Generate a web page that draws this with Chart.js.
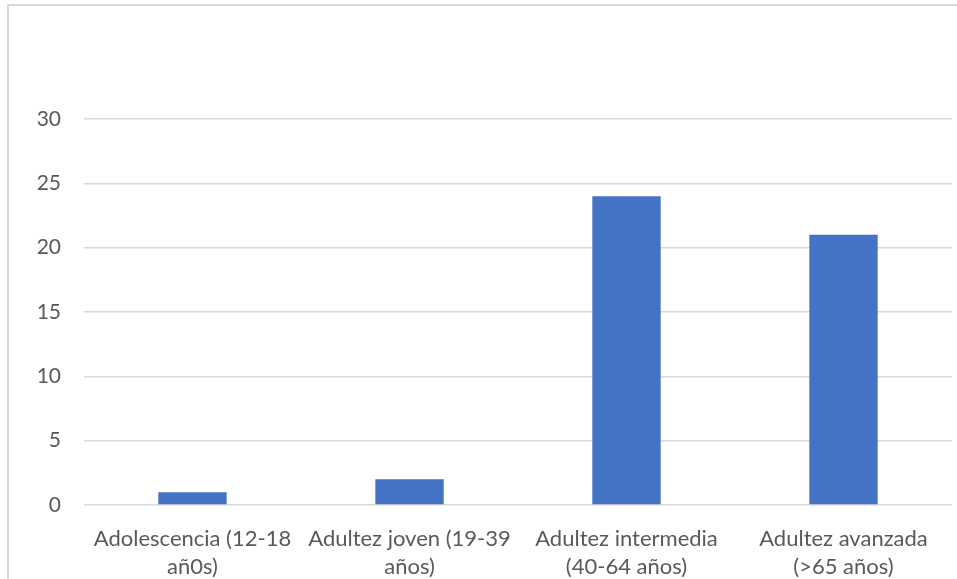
<!DOCTYPE html>
<html>
<head>
<meta charset="utf-8">
<script src="https://cdn.jsdelivr.net/npm/chart.js@4"></script>
<style>
  html, body { margin: 0; padding: 0; background: #ffffff; }
  #wrap { position: relative; width: 957px; height: 579px; }
</style>
</head>
<body>
<div id="wrap"><canvas id="chart"></canvas></div>
<script>
// Age groups on the category axis (two-line labels)
const categories = [
  ["Adolescencia (12-18", "añ0s)"],
  ["Adultez joven (19-39", "años)"],
  ["Adultez intermedia", "(40-64 años)"],
  ["Adultez avanzada", "(>65 años)"]
];
// Count per age group
const counts = [1, 2, 24, 21];
// Value axis range and step
const yMin = 0;
const yMax = 30;
const yStep = 5;

const FONT = "Lato, 'Open Sans', sans-serif";
const TEXT = "#595959";
const GRID = "#d9d9d9";

// Thin frame around the chart object
const framePlugin = {
  id: "frame",
  beforeDraw(chart) {
    const ctx = chart.ctx;
    ctx.save();
    ctx.strokeStyle = GRID;
    ctx.lineWidth = 2;
    ctx.beginPath();
    ctx.moveTo(8, chart.height);
    ctx.lineTo(8, 5);
    ctx.lineTo(chart.width, 5);
    ctx.stroke();
    ctx.restore();
  }
};

new Chart(document.getElementById("chart"), {
  type: "bar",
  data: {
    labels: categories,
    datasets: [{
      data: counts,
      backgroundColor: "#4472c4",
      borderWidth: 0,
      categoryPercentage: 1,
      barPercentage: 0.315
    }]
  },
  options: {
    responsive: true,
    maintainAspectRatio: false,
    animation: false,
    layout: { padding: { top: 119, right: 5, left: 0, bottom: 0 } },
    plugins: { legend: { display: false }, tooltip: { enabled: false } },
    scales: {
      x: {
        grid: { display: false },
        border: { display: false },
        ticks: {
          color: TEXT,
          font: { family: FONT, size: 22, lineHeight: 1.27 },
          maxRotation: 0,
          autoSkip: false,
          padding: 12
        },
        afterFit(scale) { scale.height = 74; }
      },
      y: {
        min: yMin,
        max: yMax,
        grid: { color: GRID, lineWidth: 1.5, drawTicks: false },
        border: { display: false },
        ticks: {
          stepSize: yStep,
          color: TEXT,
          font: { family: FONT, size: 21 },
          padding: 23
        },
        afterFit(scale) { scale.width = 84; }
      }
    }
  },
  plugins: [framePlugin]
});
</script>
</body>
</html>
